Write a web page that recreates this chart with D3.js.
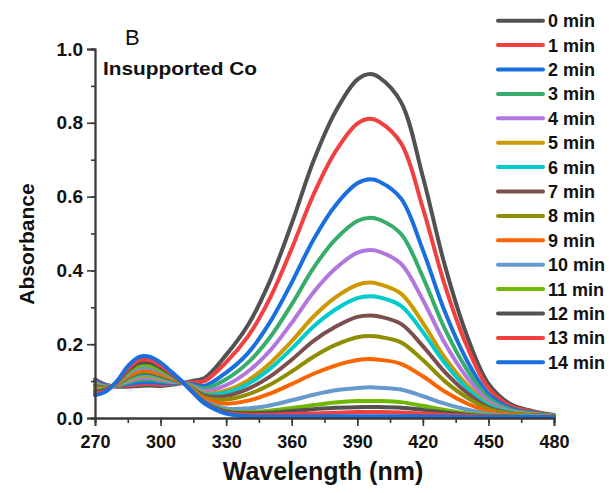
<!DOCTYPE html>
<html>
<head>
<meta charset="utf-8">
<script src="https://cdn.jsdelivr.net/npm/d3@7"></script>
<style>
  body { margin: 0; background: #fff; }
  svg { display: block; font-family: Arial, "Liberation Sans", sans-serif; }
</style>
</head>
<body>
<div id="chart"></div>
<script>
// wavelengths (nm) at which the spectra were read
var wavelengths = [270, 275, 280, 285, 290, 295, 300, 305, 310, 315, 320, 330, 340, 350,
                   360, 370, 380, 390, 396, 400, 410, 420, 430, 440, 450, 460, 470, 480];

var seriesNames = ['0 min', '1 min', '2 min', '3 min', '4 min', '5 min', '6 min', '7 min',
                   '8 min', '9 min', '10 min', '11 min', '12 min', '13 min', '14 min'];

var seriesColors = ['#515151', '#f14040', '#1a6fdf', '#37ad6b', '#b177de', '#cc9900', '#00cbcc',
                    '#7d4e4e', '#8e8e00', '#fb6501', '#6699cc', '#6fb802', '#515151', '#f14040', '#1a6fdf'];

// absorbance values, one array per time
var abs0  = [.105, .090, .085, .085, .087, .088, .087, .090, .095, .101, .108, .171, .252, .371, .527, .697, .830, .917, .932, .923, .856, .654, .415, .226, .093, .038, .019, .008];
var abs1  = [.103, .089, .086, .088, .091, .092, .090, .092, .095, .097, .100, .151, .221, .324, .459, .606, .722, .798, .811, .803, .745, .569, .361, .197, .081, .033, .017, .007];
var abs2  = [.100, .088, .087, .092, .096, .097, .095, .094, .095, .091, .087, .123, .176, .259, .367, .484, .576, .636, .647, .641, .595, .455, .289, .158, .065, .027, .014, .006];
var abs3  = [.096, .086, .088, .096, .103, .104, .100, .097, .096, .087, .080, .105, .150, .218, .308, .407, .484, .534, .543, .538, .499, .382, .242, .133, .055, .023, .012, .006];
var abs4  = [.093, .085, .089, .100, .108, .109, .104, .099, .096, .084, .073, .089, .126, .182, .258, .341, .405, .448, .455, .451, .418, .320, .203, .111, .046, .019, .010, .005];
var abs5  = [.091, .084, .090, .103, .113, .114, .108, .102, .096, .082, .067, .075, .102, .148, .208, .275, .327, .361, .367, .363, .337, .258, .164, .091, .038, .017, .010, .005];
var abs6  = [.089, .083, .091, .106, .117, .118, .111, .103, .096, .080, .064, .069, .092, .133, .188, .248, .294, .325, .330, .327, .304, .233, .149, .082, .035, .016, .009, .005];
var abs7  = [.087, .082, .091, .109, .121, .122, .114, .105, .096, .078, .061, .060, .079, .112, .158, .209, .247, .274, .278, .275, .255, .195, .125, .069, .029, .013, .008, .005];
var abs8  = [.084, .081, .092, .111, .124, .125, .117, .107, .096, .076, .056, .050, .064, .090, .126, .166, .198, .219, .222, .220, .205, .157, .100, .056, .025, .012, .007, .004];
var abs9  = [.082, .080, .093, .114, .128, .129, .120, .109, .097, .074, .052, .039, .047, .066, .092, .120, .142, .157, .160, .158, .147, .113, .072, .040, .018, .009, .006, .004];
var abs10 = [.078, .079, .094, .119, .135, .136, .126, .112, .097, .071, .046, .026, .026, .034, .048, .063, .075, .081, .083, .082, .077, .059, .039, .023, .011, .006, .005, .003];
var abs11 = [.075, .077, .096, .124, .142, .143, .131, .115, .097, .069, .043, .020, .016, .020, .027, .035, .042, .046, .046, .046, .043, .033, .022, .013, .007, .004, .003, .003];
var abs12 = [.071, .076, .097, .129, .149, .150, .137, .118, .097, .069, .043, .017, .013, .014, .019, .024, .028, .029, .030, .030, .028, .022, .015, .009, .005, .004, .003, .003];
var abs13 = [.067, .074, .098, .133, .156, .157, .142, .121, .098, .068, .041, .014, .009, .009, .011, .012, .014, .016, .016, .016, .015, .012, .009, .006, .004, .003, .003, .003];
var abs14 = [.062, .072, .100, .140, .165, .166, .150, .125, .098, .068, .040, .012, .005, .004, .004, .004, .005, .005, .005, .005, .005, .004, .004, .003, .003, .003, .003, .003];

var allSeries = [abs0, abs1, abs2, abs3, abs4, abs5, abs6, abs7, abs8, abs9, abs10, abs11, abs12, abs13, abs14];

var xTicks = [270, 300, 330, 360, 390, 420, 450, 480];
var yTicks = [0, 0.2, 0.4, 0.6, 0.8, 1.0];

(function () {
    var width = 612, height = 493;
    var plotLeft = 95, plotRight = 554, plotTop = 49, plotBottom = 418;
    var axisColor = '#3a3a3a';

    var svg = d3.select('#chart').append('svg')
        .attr('width', width)
        .attr('height', height);

    var x = d3.scaleLinear().domain([270, 480]).range([plotLeft, plotRight]);
    var y = d3.scaleLinear().domain([0, 1]).range([plotBottom, plotTop]);

    // spectra
    var line = d3.line()
        .x(function (d, i) { return x(wavelengths[i]); })
        .y(function (d) { return y(d); })
        .curve(d3.curveCatmullRom.alpha(0.5));

    svg.append('g').selectAll('path')
        .data(allSeries)
        .enter().append('path')
        .attr('d', line)
        .attr('fill', 'none')
        .attr('stroke', function (d, i) { return seriesColors[i]; })
        .attr('stroke-width', 4)
        .attr('stroke-linejoin', 'round')
        .attr('stroke-linecap', 'round');

    // x axis
    var xAxis = svg.append('g').attr('transform', 'translate(0,' + plotBottom + ')');
    xAxis.append('g').call(d3.axisBottom(x).tickValues(d3.range(270, 481, 15)).tickSize(5).tickFormat(''));
    xAxis.append('g').call(d3.axisBottom(x).tickValues(xTicks).tickSize(8).tickFormat(d3.format('d')));
    xAxis.selectAll('.domain').attr('stroke', axisColor).attr('stroke-width', 1.8);
    xAxis.selectAll('line').attr('stroke', axisColor).attr('stroke-width', 1.6);
    xAxis.selectAll('text')
        .attr('y', 30)
        .attr('dy', 0)
        .attr('fill', '#111')
        .style('font-size', '18px')
        .style('font-weight', 'bold');

    // y axis
    var yAxis = svg.append('g').attr('transform', 'translate(' + plotLeft + ',0)');
    yAxis.append('g').call(d3.axisLeft(y).tickValues(d3.range(0, 1.01, 0.1)).tickSize(4).tickFormat(''));
    yAxis.append('g').call(d3.axisLeft(y).tickValues(yTicks).tickSize(8).tickFormat(d3.format('.1f')));
    yAxis.selectAll('.domain').attr('stroke', axisColor).attr('stroke-width', 1.8);
    yAxis.selectAll('line').attr('stroke', axisColor).attr('stroke-width', 1.6);
    yAxis.selectAll('text')
        .attr('x', -12)
        .attr('fill', '#111')
        .style('font-size', '19px')
        .style('font-weight', 'bold');

    // axis titles
    svg.append('text')
        .attr('x', 323)
        .attr('y', 480)
        .attr('text-anchor', 'middle')
        .style('font-size', '25px')
        .style('font-weight', 'bold')
        .attr('fill', '#111')
        .text('Wavelength (nm)');

    svg.append('text')
        .attr('transform', 'translate(34,244) rotate(-90)')
        .attr('text-anchor', 'middle')
        .style('font-size', '21px')
        .style('font-weight', 'bold')
        .attr('fill', '#111')
        .text('Absorbance');

    // panel letter and annotation
    svg.append('text')
        .attr('x', 125)
        .attr('y', 45)
        .style('font-size', '22px')
        .attr('fill', '#111')
        .text('B');

    svg.append('text')
        .attr('x', 103)
        .attr('y', 75)
        .attr('textLength', 154)
        .attr('lengthAdjust', 'spacingAndGlyphs')
        .style('font-size', '18px')
        .style('font-weight', 'bold')
        .attr('fill', '#111')
        .text('Insupported Co');

    // legend
    var legend = svg.append('g').selectAll('g')
        .data(seriesNames)
        .enter().append('g')
        .attr('transform', function (d, i) { return 'translate(498,' + (20.7 + i * 24.4) + ')'; });

    legend.append('line')
        .attr('x1', 0).attr('x2', 45)
        .attr('stroke', function (d, i) { return seriesColors[i]; })
        .attr('stroke-width', 4)
        .attr('stroke-linecap', 'round');

    legend.append('text')
        .attr('x', 50)
        .attr('dy', '0.36em')
        .style('font-size', '18px')
        .style('font-weight', 'bold')
        .attr('fill', '#111')
        .text(function (d) { return d; });
})();
</script>
</body>
</html>
